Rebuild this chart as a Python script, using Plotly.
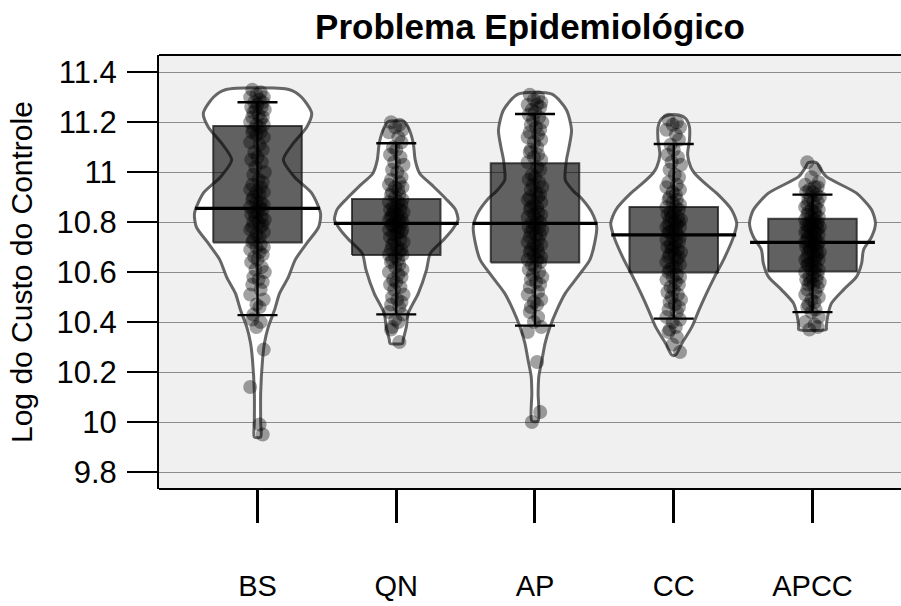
import plotly.graph_objects as go

# ---- data -------------------------------------------------------------
GROUPS = ["BS", "QN", "AP", "CC", "APCC"]
TICKS_Y = [9.8, 10.0, 10.2, 10.4, 10.6, 10.8, 11.0, 11.2, 11.4]
TICK_TEXT_Y = ["9.8", "10", "10.2", "10.4", "10.6", "10.8", "11", "11.2", "11.4"]

MEANS = [10.855, 10.795, 10.795, 10.749, 10.719]
BOX_LOW = [10.719, 10.669, 10.639, 10.598, 10.603]
BOX_HIGH = [11.185, 10.893, 11.036, 10.861, 10.814]
WHISK_LOW = [10.428, 10.431, 10.386, 10.414, 10.440]
WHISK_HIGH = [11.280, 11.116, 11.233, 11.113, 10.910]

# density profiles (value grid, relative density)
BS_GRID = [9.94, 10.00, 10.115, 10.25, 10.315, 10.38, 10.448, 10.515, 10.58, 10.65, 10.715,
           10.78, 10.836, 10.916, 10.98, 11.05, 11.116, 11.18, 11.236, 11.30, 11.33]
BS_DENS = [0.05, 0.05, 0.05, 0.08, 0.11, 0.17, 0.27, 0.35, 0.49, 0.60, 0.78,
           0.97, 1.00, 0.86, 0.59, 0.41, 0.57, 0.78, 0.86, 0.70, 0.51]
QN_GRID = [10.315, 10.33, 10.38, 10.435, 10.515, 10.609, 10.675, 10.729, 10.77, 10.809,
           10.85, 10.893, 10.95, 10.996, 11.05, 11.116, 11.18, 11.202]
QN_DENS = [0.10, 0.11, 0.16, 0.19, 0.35, 0.48, 0.54, 0.75, 0.89, 0.98,
           0.94, 0.79, 0.56, 0.37, 0.30, 0.27, 0.19, 0.13]
AP_GRID = [10.004, 10.115, 10.181, 10.248, 10.315, 10.382, 10.45, 10.515, 10.582, 10.649, 10.72,
           10.782, 10.84, 10.889, 10.93, 10.969, 11.049, 11.10, 11.169, 11.249, 11.312]
AP_DENS = [0.05, 0.05, 0.06, 0.11, 0.16, 0.24, 0.35, 0.48, 0.68, 0.87, 0.95,
           0.98, 0.90, 0.76, 0.59, 0.48, 0.50, 0.54, 0.58, 0.50, 0.27]
CC_GRID = [10.268, 10.315, 10.382, 10.448, 10.515, 10.582, 10.649, 10.742, 10.795, 10.849,
           10.916, 10.95, 10.996, 11.02, 11.07, 11.13, 11.18, 11.215, 11.229]
CC_DENS = [0.03, 0.13, 0.29, 0.40, 0.52, 0.65, 0.79, 0.95, 1.00, 0.92,
           0.68, 0.52, 0.33, 0.27, 0.22, 0.25, 0.25, 0.19, 0.08]
APCC_GRID = [10.371, 10.382, 10.422, 10.475, 10.529, 10.582, 10.635, 10.689, 10.742, 10.795,
             10.849, 10.916, 10.982, 11.02, 11.038]
APCC_DENS = [0.22, 0.22, 0.24, 0.30, 0.49, 0.70, 0.78, 0.81, 0.94, 1.00,
             0.94, 0.70, 0.22, 0.11, 0.07]

# observations
BS_PTS = [11.33, 11.32, 11.31, 11.30, 11.30, 11.29, 11.28, 11.28, 11.27, 11.26, 11.26, 11.25, 11.25, 11.24,
          11.23, 11.22, 11.22, 11.21, 11.20, 11.19, 11.19, 11.18, 11.17, 11.16, 11.16, 11.15,
          11.14, 11.12, 11.11, 11.09, 11.08, 11.06, 11.05,
          11.04, 11.02, 11.00, 10.99, 10.97, 10.96,
          10.95, 10.94, 10.93, 10.92, 10.92, 10.91, 10.90, 10.89, 10.88, 10.88, 10.87, 10.86, 10.86,
          10.85, 10.84, 10.84, 10.83, 10.82, 10.82, 10.81, 10.80, 10.80, 10.79, 10.78, 10.78, 10.77, 10.76, 10.75,
          10.74, 10.73, 10.72, 10.71, 10.70, 10.70, 10.69, 10.68, 10.67, 10.66, 10.65,
          10.64, 10.62, 10.61, 10.60, 10.58, 10.57, 10.56, 10.55,
          10.53, 10.51, 10.49, 10.47, 10.46,
          10.43, 10.41, 10.40, 10.38,
          10.29, 10.14, 9.99, 9.95]
QN_PTS = [11.20, 11.19, 11.18, 11.17, 11.16,
          11.14, 11.12, 11.10, 11.09, 11.07, 11.06,
          11.04, 11.03, 11.01, 11.00, 10.98, 10.97, 10.96,
          10.95, 10.94, 10.94, 10.93, 10.92, 10.91, 10.91, 10.90, 10.89, 10.88, 10.88, 10.87, 10.86, 10.86, 10.85,
          10.85, 10.84, 10.84, 10.83, 10.83, 10.82, 10.82, 10.81, 10.81, 10.80, 10.80, 10.80, 10.79, 10.79,
          10.78, 10.78, 10.77, 10.77, 10.76, 10.76, 10.75, 10.75,
          10.74, 10.73, 10.72, 10.72, 10.71, 10.70, 10.69, 10.69, 10.68, 10.67, 10.67, 10.66, 10.65, 10.65,
          10.64, 10.63, 10.62, 10.61, 10.60, 10.59, 10.58, 10.57, 10.56, 10.55,
          10.54, 10.53, 10.51, 10.50, 10.49, 10.48, 10.47, 10.46,
          10.44, 10.43, 10.41, 10.40, 10.38, 10.37,
          10.32]
AP_PTS = [11.31, 11.30, 11.29, 11.28, 11.27, 11.27, 11.26, 11.25,
          11.24, 11.23, 11.22, 11.21, 11.20, 11.19, 11.18, 11.17, 11.16, 11.15,
          11.14, 11.13, 11.12, 11.10, 11.09, 11.08, 11.07, 11.06, 11.05,
          11.04, 11.02, 11.01, 10.99, 10.98, 10.97, 10.96, 10.95,
          10.94, 10.93, 10.92, 10.91, 10.90, 10.90, 10.89, 10.88, 10.87, 10.86, 10.86, 10.85,
          10.84, 10.83, 10.83, 10.82, 10.81, 10.80, 10.80, 10.79, 10.78, 10.78, 10.77, 10.77, 10.76, 10.75, 10.75,
          10.74, 10.73, 10.72, 10.71, 10.71, 10.70, 10.69, 10.68, 10.68, 10.67, 10.66, 10.65, 10.65,
          10.64, 10.63, 10.62, 10.61, 10.60, 10.59, 10.58, 10.57, 10.56, 10.55,
          10.54, 10.52, 10.51, 10.49, 10.48, 10.47, 10.46,
          10.44, 10.42, 10.40, 10.38, 10.36,
          10.24, 10.04, 10.00]
CC_PTS = [11.21, 11.20, 11.19, 11.18, 11.17, 11.15,
          11.13, 11.11, 11.09, 11.07, 11.06,
          11.04, 11.03, 11.01, 10.99, 10.98, 10.96,
          10.95, 10.94, 10.93, 10.92, 10.91, 10.90, 10.89, 10.89, 10.88, 10.87, 10.86, 10.86, 10.85,
          10.84, 10.84, 10.83, 10.82, 10.82, 10.81, 10.81, 10.80, 10.80, 10.79, 10.79, 10.78, 10.78,
          10.77, 10.77, 10.76, 10.76, 10.75,
          10.74, 10.74, 10.73, 10.72, 10.72, 10.71, 10.70, 10.70, 10.69, 10.69, 10.68, 10.67, 10.67,
          10.66, 10.66, 10.65,
          10.64, 10.63, 10.62, 10.62, 10.61, 10.60, 10.59, 10.58, 10.58, 10.57, 10.56, 10.55,
          10.54, 10.53, 10.52, 10.51, 10.50, 10.49, 10.48, 10.47, 10.46, 10.45,
          10.44, 10.42, 10.41, 10.40, 10.38, 10.37, 10.36,
          10.34, 10.31, 10.28]
APCC_PTS = [11.04, 11.01, 10.98, 10.96,
            10.95, 10.94, 10.94, 10.93, 10.92, 10.92, 10.91, 10.90, 10.90, 10.89, 10.88, 10.88, 10.87,
            10.86, 10.86, 10.85,
            10.85, 10.84, 10.84, 10.83, 10.83, 10.82, 10.82, 10.81, 10.81, 10.80, 10.80, 10.80, 10.79,
            10.79, 10.78, 10.78, 10.78, 10.77, 10.77, 10.76, 10.76, 10.76, 10.75, 10.75,
            10.74, 10.74, 10.73, 10.73, 10.72, 10.72, 10.72, 10.71, 10.71, 10.70, 10.70, 10.70, 10.69,
            10.69, 10.68, 10.68, 10.67, 10.67, 10.66, 10.66, 10.65, 10.65,
            10.64, 10.64, 10.63, 10.63, 10.62, 10.61, 10.61, 10.60, 10.60, 10.59, 10.58, 10.58, 10.57,
            10.57, 10.56, 10.56, 10.55, 10.55,
            10.54, 10.53, 10.52, 10.51, 10.50, 10.49, 10.48, 10.47, 10.46, 10.45,
            10.44, 10.42, 10.40, 10.39, 10.38, 10.37]

GRIDS = [BS_GRID, QN_GRID, AP_GRID, CC_GRID, APCC_GRID]
DENSITIES = [BS_DENS, QN_DENS, AP_DENS, CC_DENS, APCC_DENS]
POINTS = [BS_PTS, QN_PTS, AP_PTS, CC_PTS, APCC_PTS]

# horizontal scatter of the points around each bean centre
JITTER = [-0.05, 0.03, -0.01, 0.06, -0.07, 0.02, 0.05, -0.03, 0.0, -0.06, 0.04, -0.02,
          0.07, -0.04, 0.01, 0.05, -0.05, 0.03, -0.07, 0.06, -0.01, 0.02, -0.04]

# ---- styling ----------------------------------------------------------
FONT = "Liberation Sans, Arial, Helvetica, sans-serif"
BEAN_HALF = 0.454
BOX_HALF = 0.319
AVG_HALF = 0.45
JITTER_SCALE = 0.75

fig = go.Figure()
centres = list(range(1, len(GROUPS) + 1))

# beans (violin outlines)
for c, grid, dens in zip(centres, GRIDS, DENSITIES):
    xs = [c + d * BEAN_HALF for d in dens] + [c - d * BEAN_HALF for d in reversed(dens)]
    ys = list(grid) + list(reversed(grid))
    xs.append(xs[0])
    ys.append(ys[0])
    fig.add_trace(go.Scatter(
        x=xs, y=ys, mode="lines", fill="toself", fillcolor="white",
        line=dict(color="rgba(70,70,70,0.82)", width=3, shape="spline", smoothing=0.7),
        hoverinfo="skip", showlegend=False))

# inference boxes
for c, lo, hi in zip(centres, BOX_LOW, BOX_HIGH):
    fig.add_trace(go.Scatter(
        x=[c - BOX_HALF, c + BOX_HALF, c + BOX_HALF, c - BOX_HALF, c - BOX_HALF],
        y=[lo, lo, hi, hi, lo], mode="lines", fill="toself",
        fillcolor="rgba(0,0,0,0.62)", line=dict(color="rgba(20,20,20,0.75)", width=2),
        hoverinfo="skip", showlegend=False))

# raw observations
for c, pts in zip(centres, POINTS):
    fig.add_trace(go.Scatter(
        x=[c + JITTER_SCALE * JITTER[i % len(JITTER)] for i in range(len(pts))], y=pts,
        mode="markers", marker=dict(size=14, color="rgba(0,0,0,0.37)", line=dict(width=0)),
        hoverinfo="skip", showlegend=False))

# whiskers with caps
fig.add_trace(go.Scatter(
    x=centres, y=MEANS, mode="markers",
    marker=dict(size=1, color="rgba(0,0,0,0)"),
    error_y=dict(type="data", symmetric=False,
                 array=[h - m for h, m in zip(WHISK_HIGH, MEANS)],
                 arrayminus=[m - l for m, l in zip(MEANS, WHISK_LOW)],
                 color="black", thickness=2.4, width=20),
    hoverinfo="skip", showlegend=False))

# average lines
avg_x, avg_y = [], []
for c, m in zip(centres, MEANS):
    avg_x += [c - AVG_HALF, c + AVG_HALF, None]
    avg_y += [m, m, None]
fig.add_trace(go.Scatter(x=avg_x, y=avg_y, mode="lines",
                         line=dict(color="black", width=3.4),
                         hoverinfo="skip", showlegend=False))

fig.update_layout(
    width=901, height=606,
    margin=dict(l=159, r=0, t=55, b=117, autoexpand=False),
    paper_bgcolor="white", plot_bgcolor="#f0f0f0",
    font=dict(family=FONT, color="black"),
    title=dict(text="<b>Problema Epidemiológico</b>", font=dict(size=35, family=FONT),
               x=0.5, xref="paper", xanchor="center",
               y=1 - 27 / 606, yref="container", yanchor="middle"),
    xaxis=dict(range=[0.29, 5.638], tickvals=centres, ticktext=GROUPS,
               ticks="outside", ticklen=33, tickwidth=3, tickcolor="black",
               showgrid=False, zeroline=False, showline=False, automargin=False,
               tickfont=dict(size=29), ticklabelstandoff=38),
    yaxis=dict(range=[9.732, 11.469], tickvals=TICKS_Y, ticktext=TICK_TEXT_Y,
               ticks="outside", ticklen=30, tickwidth=2, tickcolor="black",
               showgrid=True, gridcolor="#8c8c8c", gridwidth=1.2, automargin=False,
               zeroline=False, showline=True, linecolor="black", linewidth=2,
               tickfont=dict(size=31), ticklabelstandoff=4),
    shapes=[
        dict(type="line", xref="paper", yref="paper", x0=0, x1=1, y0=1, y1=1,
             line=dict(color="black", width=2)),
        dict(type="line", xref="paper", yref="paper", x0=0, x1=1, y0=0, y1=0,
             line=dict(color="black", width=2)),
    ],
    annotations=[
        dict(text="Log do Custo do Controle", textangle=-90, showarrow=False,
             xref="paper", yref="paper", x=-138 / 742, y=0.5,
             xanchor="center", yanchor="middle", font=dict(size=30, family=FONT)),
    ],
)

fig.write_html("out.html")
